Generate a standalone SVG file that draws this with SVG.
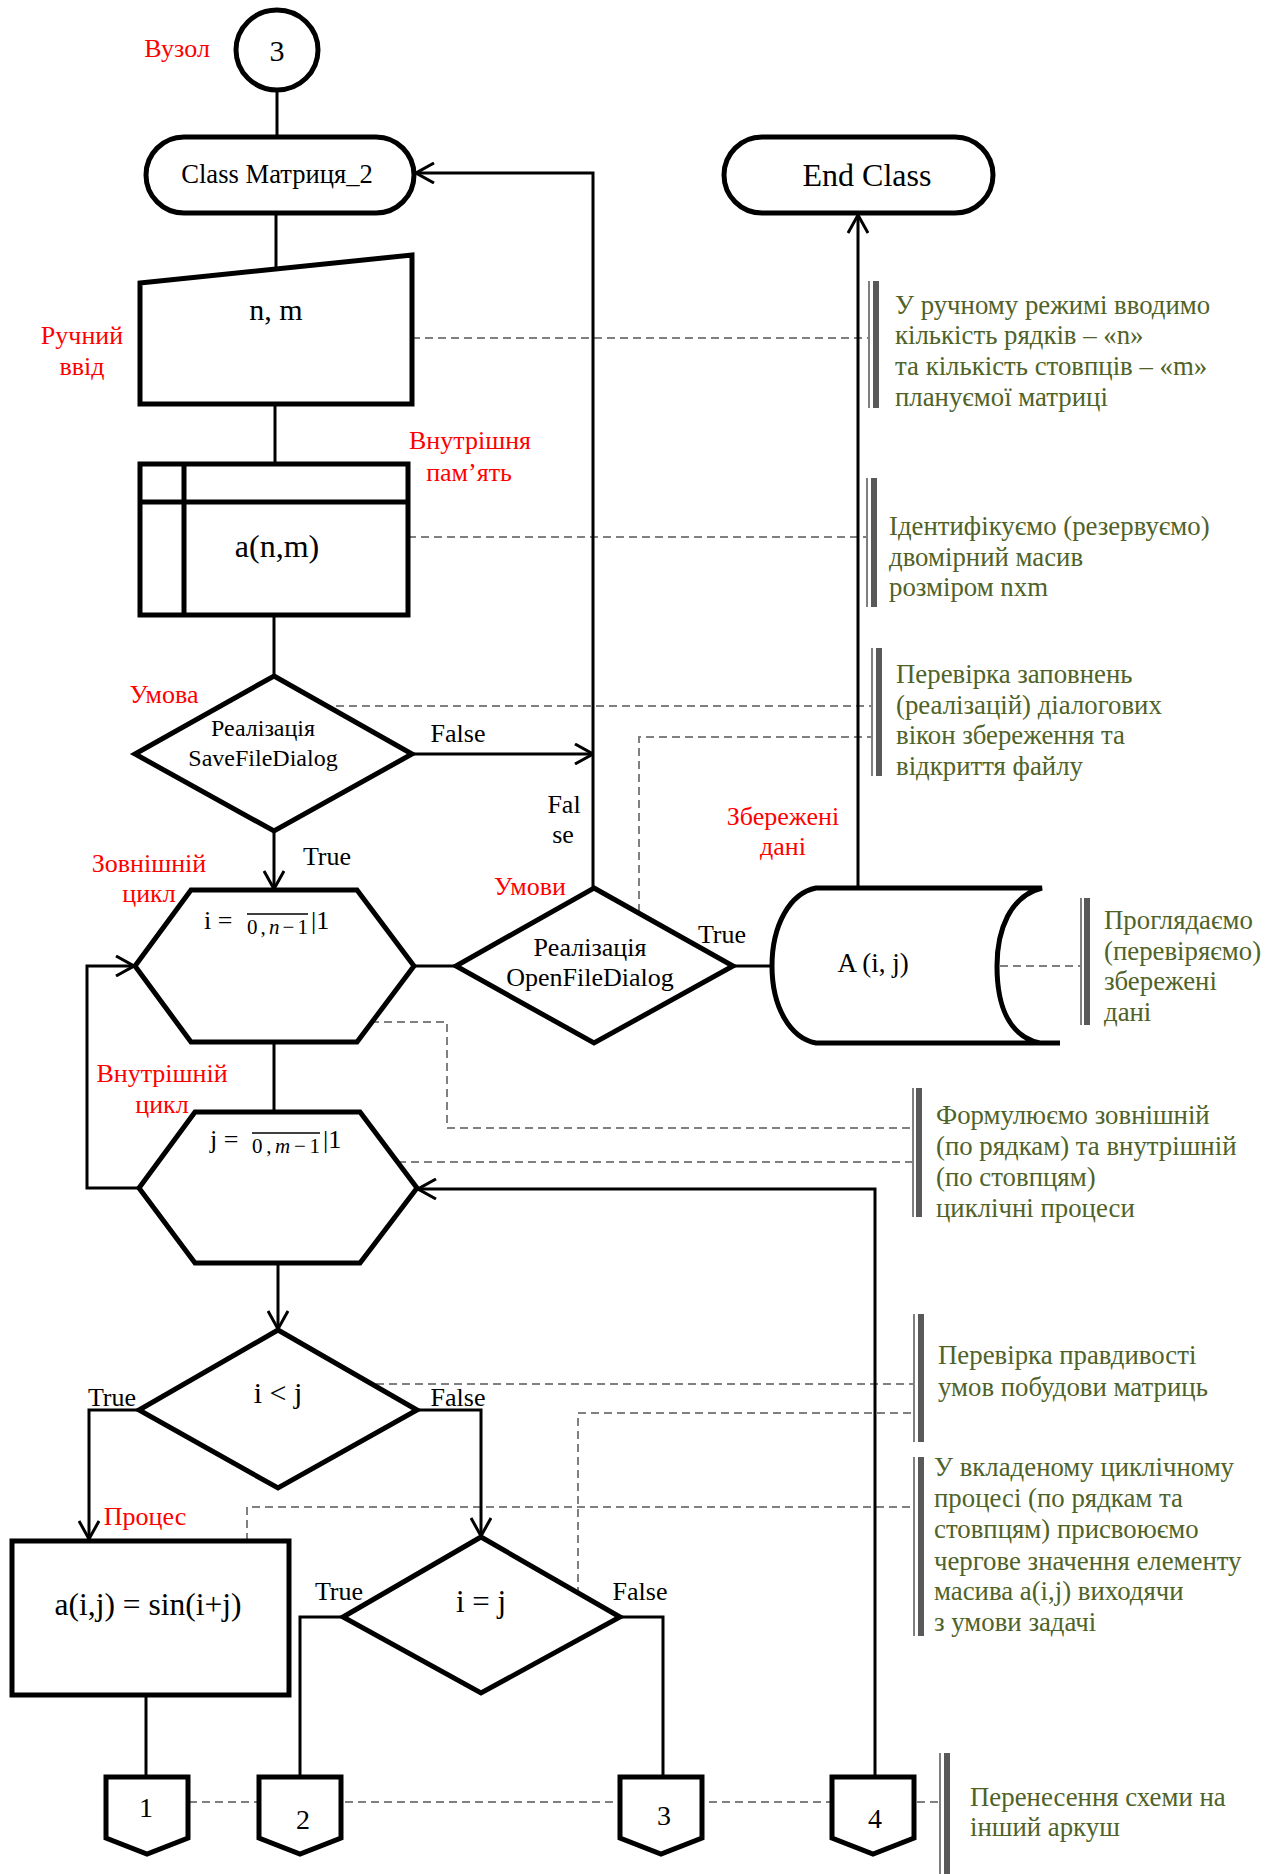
<svg xmlns="http://www.w3.org/2000/svg" width="1276" height="1874" viewBox="0 0 1276 1874">
<defs>
<style>
text{font-family:"Liberation Serif","Times New Roman",serif;fill:#000}
.c{text-anchor:middle}
.r{fill:#ff0000;font-size:26px;text-anchor:middle}
.g{fill:#4f6228;font-size:26.8px}
.l{font-size:26px;text-anchor:middle}
.s{fill:#fff;stroke:#000;stroke-width:5;stroke-linejoin:miter}
.ln{fill:none;stroke:#000;stroke-width:3}
.d{fill:none;stroke:#808080;stroke-width:2;stroke-dasharray:8 5}
.bt{fill:#7f7f7f}
.bk{fill:#595959}
</style>
<marker id="arr" viewBox="0 0 20 22" refX="19" refY="11" markerWidth="20" markerHeight="22" markerUnits="userSpaceOnUse" orient="auto">
<path d="M1,1 L19,11 L1,21" fill="none" stroke="#000" stroke-width="3"/>
</marker>
</defs>
<rect width="1276" height="1874" fill="#fff"/>

<g id="annotation-lines">
<path class="d" d="M412,338 H868"/>
<path class="d" d="M408,537 H866"/>
<path class="d" d="M336,706 H871"/>
<path class="d" d="M639,912 V737 H871"/>
<path class="d" d="M371,1022 H447 V1128 H912"/>
<path class="d" d="M398,1162 H912"/>
<path class="d" d="M1000,966 H1080"/>
<path class="d" d="M376,1384 H913"/>
<path class="d" d="M578,1595 V1413 H913"/>
<path class="d" d="M247,1541 V1507 H913"/>
<path class="d" d="M189,1802 H939"/>
</g>

<g id="connectors">
<path class="ln" d="M277,90 V137"/>
<path class="ln" d="M276,213 V269"/>
<path class="ln" d="M275,404 V464"/>
<path class="ln" d="M274,615 V676"/>
<path class="ln" d="M412,754 H593" marker-end="url(#arr)"/>
<path class="ln" d="M593,888 V173 H416" marker-end="url(#arr)"/>
<path class="ln" d="M274,831 V889" marker-end="url(#arr)"/>
<path class="ln" d="M414,966 H456"/>
<path class="ln" d="M733,966 H772"/>
<path class="ln" d="M858,888 V215" marker-end="url(#arr)"/>
<path class="ln" d="M274,1042 V1112"/>
<path class="ln" d="M139,1188 H87 V966 H134" marker-end="url(#arr)"/>
<path class="ln" d="M875,1777 V1189 H418" marker-end="url(#arr)"/>
<path class="ln" d="M278,1263 V1329" marker-end="url(#arr)"/>
<path class="ln" d="M139,1410 H89 V1539" marker-end="url(#arr)"/>
<path class="ln" d="M417,1410 H481 V1536" marker-end="url(#arr)"/>
<path class="ln" d="M146,1695 V1777"/>
<path class="ln" d="M343,1617 H300 V1777"/>
<path class="ln" d="M620,1617 H663 V1777"/>
<text class="l" x="458" y="742">False</text>
<text class="l" x="564" y="813">Fal</text>
<text class="l" x="563" y="843">se</text>
<text class="l" x="327" y="865">True</text>
<text class="l" x="722" y="943">True</text>
<text class="l" x="112" y="1406">True</text>
<text class="l" x="458" y="1406">False</text>
<text class="l" x="339" y="1600">True</text>
<text class="l" x="640" y="1600">False</text>
</g>

<g id="node-start">
<ellipse class="s" cx="277" cy="50" rx="41" ry="40"/>
<text class="c" x="277" y="61" font-size="30">3</text>
<text class="r" x="177" y="57">Вузол</text>
</g>

<g id="node-class">
<rect class="s" x="146" y="137" width="268" height="76" rx="38"/>
<text class="c" x="277" y="183" font-size="26.6">Class Матриця_2</text>
</g>

<g id="node-end">
<rect class="s" x="724" y="137" width="269" height="76" rx="38"/>
<text class="c" x="867" y="186" font-size="32">End Class</text>
</g>

<g id="node-input">
<polygon class="s" points="140,283 412,255 412,404 140,404"/>
<text class="c" x="276" y="320" font-size="30">n, m</text>
<text class="r" x="82" y="344">Ручний</text>
<text class="r" x="82" y="375">ввід</text>
</g>

<g id="node-storage">
<rect class="s" x="140" y="464" width="268" height="151"/>
<path d="M140,502 H408 M184,464 V615" stroke="#000" stroke-width="5" fill="none"/>
<text class="c" x="277" y="557" font-size="32">a(n,m)</text>
<text class="r" x="470" y="449">Внутрішня</text>
<text class="r" x="469" y="481">пам’ять</text>
</g>

<g id="node-save">
<polygon class="s" points="274,676 412,754 274,831 135,754"/>
<text class="c" x="263" y="736" font-size="24">Реалізація</text>
<text class="c" x="263" y="766" font-size="24">SaveFileDialog</text>
<text class="r" x="164" y="703">Умова</text>
</g>

<g id="node-outer-loop">
<polygon class="s" points="191,890 357,890 414,966 357,1042 191,1042 135,966"/>
<text x="204" y="929" font-size="26">i =</text>
<text x="247" y="934" font-size="21" textLength="61" lengthAdjust="spacing">0,<tspan font-style="italic">n</tspan>−1</text>
<path d="M247,914 H308" stroke="#000" stroke-width="1.5"/>
<text x="311" y="929" font-size="26">|1</text>
<text class="r" x="149" y="872">Зовнішній</text>
<text class="r" x="149" y="902">цикл</text>
</g>

<g id="node-open">
<polygon class="s" points="594,888 733,966 594,1043 456,966"/>
<text class="c" x="590" y="956" font-size="26">Реалізація</text>
<text class="c" x="590" y="986" font-size="26">OpenFileDialog</text>
<text class="r" x="530" y="895">Умови</text>
</g>

<g id="node-stored">
<path d="M1060,1043 H816 C790,1038 772,1007 772,966 C772,925 790,893 816,888 H1042 C1010,896 997,930 997,966 C997,1004 1008,1036 1040,1043" fill="none" stroke="#000" stroke-width="5"/>
<text class="c" x="873" y="972" font-size="27">A (i, j)</text>
<text class="r" x="783" y="825">Збережені</text>
<text class="r" x="783" y="855">дані</text>
</g>

<g id="node-inner-loop">
<polygon class="s" points="195,1112 360,1112 417,1188 360,1263 195,1263 139,1188"/>
<text x="210" y="1148" font-size="26">j =</text>
<text x="252" y="1153" font-size="21" textLength="68" lengthAdjust="spacing">0,<tspan font-style="italic">m</tspan>−1</text>
<path d="M252,1133 H320" stroke="#000" stroke-width="1.5"/>
<text x="323" y="1148" font-size="26">|1</text>
<text class="r" x="162" y="1082">Внутрішній</text>
<text class="r" x="162" y="1113">цикл</text>
</g>

<g id="node-cond-lt">
<polygon class="s" points="278,1330 417,1410 278,1488 139,1410"/>
<text class="c" x="278" y="1403" font-size="30">i &lt; j</text>
</g>

<g id="node-process">
<rect class="s" x="12" y="1541" width="277" height="154"/>
<text class="c" x="148" y="1615" font-size="31.5">a(i,j) = sin(i+j)</text>
<text class="r" x="145" y="1525">Процес</text>
</g>

<g id="node-cond-eq">
<polygon class="s" points="481,1537 620,1617 481,1693 343,1617"/>
<text class="c" x="481" y="1612" font-size="31">i = j</text>
</g>

<g id="node-off1">
<polygon class="s" points="106,1777 188,1777 188,1838 147,1854 106,1838"/>
<text class="c" x="146" y="1817" font-size="28">1</text>
</g>
<g id="node-off2">
<polygon class="s" points="259,1777 341,1777 341,1838 300,1854 259,1838"/>
<text class="c" x="303" y="1829" font-size="28">2</text>
</g>
<g id="node-off3">
<polygon class="s" points="620,1777 702,1777 702,1838 661,1854 620,1838"/>
<text class="c" x="664" y="1825" font-size="28">3</text>
</g>
<g id="node-off4">
<polygon class="s" points="832,1777 914,1777 914,1838 873,1854 832,1838"/>
<text class="c" x="875" y="1828" font-size="28">4</text>
</g>

<g id="note-1">
<rect class="bt" x="868" y="281" width="2" height="127"/>
<rect class="bk" x="873" y="281" width="6" height="127"/>
<text class="g" x="895" y="314">У ручному режимі вводимо</text>
<text class="g" x="895" y="344">кількість рядків – «n»</text>
<text class="g" x="895" y="375">та кількість стовпців – «m»</text>
<text class="g" x="895" y="406">плануємої матриці</text>
</g>
<g id="note-2">
<rect class="bt" x="866" y="478" width="2" height="129"/>
<rect class="bk" x="871" y="478" width="6" height="129"/>
<text class="g" x="889" y="535">Ідентифікуємо (резервуємо)</text>
<text class="g" x="889" y="566">двомірний масив</text>
<text class="g" x="889" y="596">розміром nxm</text>
</g>
<g id="note-3">
<rect class="bt" x="871" y="648" width="2" height="128"/>
<rect class="bk" x="876" y="648" width="6" height="128"/>
<text class="g" x="896" y="683">Перевірка заповнень</text>
<text class="g" x="896" y="714">(реалізацій) діалогових</text>
<text class="g" x="896" y="744">вікон збереження та</text>
<text class="g" x="896" y="775">відкриття файлу</text>
</g>
<g id="note-4">
<rect class="bt" x="1080" y="898" width="2" height="127"/>
<rect class="bk" x="1084" y="898" width="6" height="127"/>
<text class="g" x="1104" y="929">Проглядаємо</text>
<text class="g" x="1104" y="960">(перевіряємо)</text>
<text class="g" x="1104" y="990">збережені</text>
<text class="g" x="1104" y="1021">дані</text>
</g>
<g id="note-5">
<rect class="bt" x="912" y="1088" width="2" height="129"/>
<rect class="bk" x="916" y="1088" width="6" height="129"/>
<text class="g" x="936" y="1124">Формулюємо зовнішній</text>
<text class="g" x="936" y="1155">(по рядкам) та внутрішній</text>
<text class="g" x="936" y="1186">(по стовпцям)</text>
<text class="g" x="936" y="1217">циклічні процеси</text>
</g>
<g id="note-6">
<rect class="bt" x="913" y="1314" width="2" height="128"/>
<rect class="bk" x="918" y="1314" width="6" height="128"/>
<text class="g" x="938" y="1364">Перевірка правдивості</text>
<text class="g" x="938" y="1396">умов побудови матриць</text>
</g>
<g id="note-7">
<rect class="bt" x="913" y="1457" width="2" height="179"/>
<rect class="bk" x="918" y="1457" width="6" height="179"/>
<text class="g" x="934" y="1476">У вкладеному циклічному</text>
<text class="g" x="934" y="1507">процесі (по рядкам та</text>
<text class="g" x="934" y="1538">стовпцям) присвоюємо</text>
<text class="g" x="934" y="1570">чергове значення елементу</text>
<text class="g" x="934" y="1600">масива a(i,j) виходячи</text>
<text class="g" x="934" y="1631">з умови задачі</text>
</g>
<g id="note-8">
<rect class="bt" x="939" y="1753" width="2" height="121"/>
<rect class="bk" x="944" y="1753" width="6" height="121"/>
<text class="g" x="970" y="1806">Перенесення схеми на</text>
<text class="g" x="970" y="1836">інший аркуш</text>
</g>
</svg>
